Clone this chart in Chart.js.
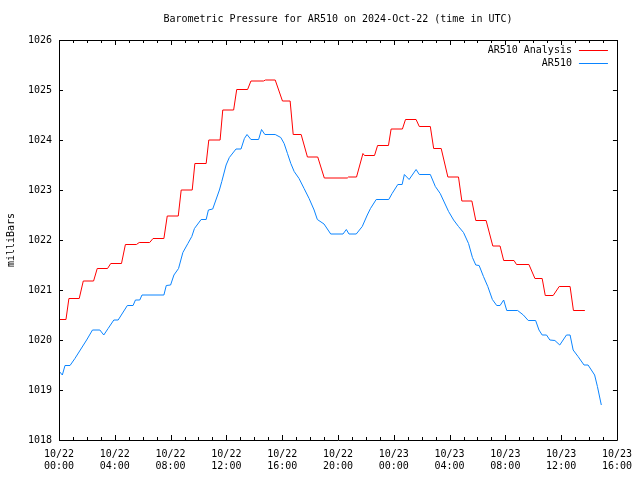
<!DOCTYPE html>
<html>
<head>
<meta charset="utf-8">
<title>Barometric Pressure for AR510</title>
<script src="https://cdn.jsdelivr.net/npm/chart.js@4"></script>
<style>
  html, body { margin: 0; padding: 0; background: #fff; }
  #wrap { width: 640px; height: 480px; }
</style>
</head>
<body>
<div id="wrap"><canvas id="pressureChart" width="640" height="480"></canvas></div>
<script>
// ── DATA ──────────────────────────────────────────────────────────────────────
// hours since 10/22 00:00 UTC

const chartTitle = "Barometric Pressure for AR510 on 2024-Oct-22 (time in UTC)";
const yAxisLabel = "milliBars";

const tickDates = ["10/22", "10/22", "10/22", "10/22", "10/22", "10/22", "10/23", "10/23", "10/23", "10/23", "10/23"];
const tickTimes = ["00:00", "04:00", "08:00", "12:00", "16:00", "20:00", "00:00", "04:00", "08:00", "12:00", "16:00"];

const analysisHours = [
  0, 0.5, 0.71, 1.45, 1.74, 2.48, 2.74, 3.48, 3.71, 4.48, 4.76, 5.55, 5.75, 6.5, 6.74, 7.52,
  7.76, 8.55, 8.76, 9.55, 9.74, 10.55, 10.74, 11.55, 11.74, 12.52, 12.74, 13.52, 13.76, 14.66,
  14.8, 15.5, 16.02, 16.57, 16.79, 17.36, 17.81, 18.55, 19.02, 20.67, 20.75, 21.33, 21.79, 21.9,
  22.62, 22.84, 23.62, 23.81, 24.62, 24.84, 25.6, 25.83, 26.62, 26.86, 27.4, 27.88, 28.64, 28.88,
  29.6, 29.88, 30.62, 31.1, 31.62, 31.88, 32.62, 32.8, 33.69, 34.12, 34.64, 34.86, 35.43, 35.86,
  36.64, 36.88, 37.7
];
const analysisValues = [
  1020.41, 1020.41, 1020.83, 1020.83, 1021.18, 1021.18, 1021.43, 1021.43, 1021.53, 1021.53, 1021.91, 1021.91, 1021.95, 1021.95, 1022.03, 1022.03,
  1022.48, 1022.48, 1023.0, 1023.0, 1023.53, 1023.53, 1024.0, 1024.0, 1024.6, 1024.6, 1025.01, 1025.01, 1025.18, 1025.18,
  1025.2, 1025.2, 1024.78, 1024.78, 1024.11, 1024.11, 1023.66, 1023.66, 1023.24, 1023.24, 1023.26, 1023.26, 1023.73, 1023.69,
  1023.69, 1023.89, 1023.89, 1024.22, 1024.22, 1024.41, 1024.41, 1024.27, 1024.27, 1023.83, 1023.83, 1023.26, 1023.26, 1022.78,
  1022.78, 1022.39, 1022.39, 1021.88, 1021.88, 1021.59, 1021.59, 1021.51, 1021.51, 1021.23, 1021.23, 1020.89, 1020.89, 1021.07,
  1021.07, 1020.59, 1020.59
];

const stationHours = [
  0, 0.24, 0.43, 0.79, 1.14, 1.98, 2.4, 2.93, 3.21, 3.52, 3.93, 4.24, 4.9, 5.31, 5.48, 5.79, 5.95, 7.52,
  7.69, 8.0, 8.24, 8.57, 8.88, 9.24, 9.52, 9.71, 10.19, 10.55, 10.71, 11.02, 11.5, 11.67, 11.98, 12.21,
  12.69, 13.05, 13.29, 13.48, 13.76, 14.31, 14.52, 14.76, 15.5, 15.9, 16.14, 16.38, 16.62, 16.86, 17.21,
  17.57, 17.93, 18.29, 18.52, 19.0, 19.48, 20.36, 20.6, 20.79, 21.31, 21.74, 22.1, 22.33, 22.74, 23.64,
  23.88, 24.29, 24.6, 24.76, 25.1, 25.6, 25.83, 26.62, 26.98, 27.33, 27.93, 28.29, 28.64, 29.0, 29.36,
  29.64, 29.88, 30.12, 30.43, 30.74, 31.07, 31.38, 31.62, 31.88, 32.1, 32.88, 33.29, 33.64, 34.17, 34.41,
  34.64, 34.95, 35.19, 35.55, 35.9, 36.38, 36.64, 36.86, 37.21, 37.64, 37.93, 38.4, 38.6, 38.88
];
const stationValues = [
  1019.38, 1019.30, 1019.49, 1019.49, 1019.63, 1020.0, 1020.2, 1020.2, 1020.1, 1020.23, 1020.4, 1020.4, 1020.69, 1020.69, 1020.8, 1020.8, 1020.9, 1020.9,
  1021.09, 1021.1, 1021.3, 1021.43, 1021.75, 1021.93, 1022.07, 1022.23, 1022.41, 1022.41, 1022.6, 1022.62, 1023.0, 1023.17, 1023.5, 1023.65,
  1023.82, 1023.82, 1024.03, 1024.11, 1024.01, 1024.01, 1024.21, 1024.11, 1024.11, 1024.05, 1023.93, 1023.73, 1023.53, 1023.37, 1023.23,
  1023.03, 1022.83, 1022.6, 1022.41, 1022.32, 1022.12, 1022.12, 1022.21, 1022.12, 1022.12, 1022.27, 1022.5, 1022.63, 1022.81, 1022.81,
  1022.93, 1023.11, 1023.11, 1023.31, 1023.21, 1023.41, 1023.31, 1023.31, 1023.07, 1022.93, 1022.57, 1022.4, 1022.27, 1022.15, 1021.93,
  1021.65, 1021.5, 1021.49, 1021.27, 1021.07, 1020.81, 1020.69, 1020.69, 1020.8, 1020.59, 1020.59, 1020.5, 1020.39, 1020.39, 1020.2,
  1020.1, 1020.1, 1020.0, 1019.99, 1019.9, 1020.1, 1020.1, 1019.8, 1019.67, 1019.5, 1019.5, 1019.3, 1019.07, 1018.7
];

// ── CHART ─────────────────────────────────────────────────────────────────────

const monoFont = "'DejaVu Sans Mono', 'Liberation Mono', monospace";

function toPoints(xs, ys) {
  return xs.map((x, i) => ({ x: x, y: ys[i] }));
}

// gnuplot-like frame: border box, inward ticks on all four sides, title, legend
const gnuplotFrame = {
  id: "gnuplotFrame",
  afterDraw(chart) {
    const { ctx, chartArea: area, scales } = chart;
    ctx.save();
    ctx.strokeStyle = "#000";
    ctx.lineWidth = 1;
    ctx.beginPath();
    ctx.rect(Math.round(area.left) + 0.5, Math.round(area.top) + 0.5,
      Math.round(area.right - area.left), Math.round(area.bottom - area.top));
    ctx.stroke();

    ctx.beginPath();
    scales.x.ticks.forEach(tick => {
      const px = Math.round(scales.x.getPixelForValue(tick.value)) + 0.5;
      const len = tick.value % 4 === 0 ? 5 : 3;
      ctx.moveTo(px, area.bottom);
      ctx.lineTo(px, area.bottom - len);
      ctx.moveTo(px, area.top);
      ctx.lineTo(px, area.top + len);
    });
    scales.y.ticks.forEach(tick => {
      const py = Math.round(scales.y.getPixelForValue(tick.value)) + 0.5;
      ctx.moveTo(area.left, py);
      ctx.lineTo(area.left + 4, py);
      ctx.moveTo(area.right, py);
      ctx.lineTo(area.right - 4, py);
    });
    ctx.stroke();

    ctx.fillStyle = "#000";
    ctx.font = "10px " + monoFont;
    ctx.textAlign = "center";
    ctx.textBaseline = "middle";
    ctx.fillText(chartTitle, (area.left + area.right) / 2, 19);

    chart.data.datasets.forEach((ds, i) => {
      const y = Math.round(area.top + 10 + i * 13) + 0.5;
      ctx.textAlign = "right";
      ctx.fillStyle = "#000";
      ctx.fillText(ds.label, area.right - 45, y);
      ctx.strokeStyle = ds.borderColor;
      ctx.beginPath();
      ctx.moveTo(area.right - 38, y);
      ctx.lineTo(area.right - 9, y);
      ctx.stroke();
    });
    ctx.restore();
  }
};

const chart = new Chart(document.getElementById("pressureChart"), {
  type: "line",
  data: {
    datasets: [
      {
        label: "AR510 Analysis",
        data: toPoints(analysisHours, analysisValues),
        borderColor: "#ff0000",
        borderWidth: 1,
        pointRadius: 0,
        tension: 0
      },
      {
        label: "AR510",
        data: toPoints(stationHours, stationValues),
        borderColor: "#0a84ff",
        borderWidth: 1,
        pointRadius: 0,
        tension: 0
      }
    ]
  },
  options: {
    responsive: false,
    animation: false,
    devicePixelRatio: 1,
    layout: { padding: { top: 40, right: 21, bottom: 0, left: 0 } },
    plugins: {
      legend: { display: false },
      tooltip: { enabled: false },
      title: { display: false }
    },
    scales: {
      x: {
        type: "linear",
        min: 0,
        max: 40,
        grid: { display: false, drawTicks: false },
        border: { display: false },
        afterFit: scale => { scale.height = 40; },
        ticks: {
          stepSize: 1,
          autoSkip: false,
          maxRotation: 0,
          padding: 8,
          color: "#000",
          font: { family: monoFont, size: 10 },
          callback: value => value % 4 === 0 ? [tickDates[value / 4], tickTimes[value / 4]] : ""
        }
      },
      y: {
        min: 1018,
        max: 1026,
        grid: { display: false, drawTicks: false },
        border: { display: false },
        afterFit: scale => { scale.width = 59; },
        title: {
          display: true,
          text: yAxisLabel,
          color: "#000",
          font: { family: monoFont, size: 10 },
          padding: { top: 5, bottom: 0 }
        },
        ticks: {
          stepSize: 1,
          padding: 7,
          color: "#000",
          font: { family: monoFont, size: 10 },
          callback: value => String(value)
        }
      }
    }
  },
  plugins: [gnuplotFrame]
});
</script>
</body>
</html>
